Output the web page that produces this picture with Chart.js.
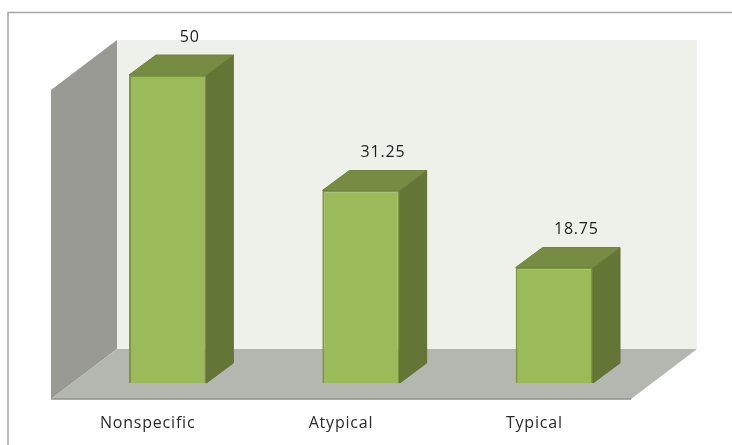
<!DOCTYPE html>
<html><head><meta charset="utf-8">
<style>html,body{margin:0;padding:0;background:#fff}canvas{display:block}</style>
<script src="https://cdn.jsdelivr.net/npm/chart.js@4"></script></head>
<body><div style="width:732px;height:445px"><canvas id="c"></canvas></div>
<script>
const categories = ["Nonspecific", "Atypical", "Typical"];
const values = [50, 31.25, 18.75];
const valueLabels = ["50", "31.25", "18.75"];
const DX = 27, DY = 20, WX = 66, WY = 50, FX = 20, FY = 16;
function poly(ctx, pts, fill, stroke){
  ctx.beginPath(); pts.forEach((p,i)=> i?ctx.lineTo(p[0],p[1]):ctx.moveTo(p[0],p[1])); ctx.closePath();
  ctx.fillStyle = fill; ctx.fill();
  if(stroke){ctx.strokeStyle=stroke;ctx.lineWidth=1;ctx.stroke();}
}
const scene = {
  id:'scene',
  beforeDraw(chart){
    const {ctx, chartArea:a} = chart;
    ctx.letterSpacing='0.8px';
    ctx.save();
    ctx.strokeStyle='#a6a6a6'; ctx.lineWidth=1.5;
    ctx.beginPath(); ctx.moveTo(8,445); ctx.lineTo(8,12.5); ctx.lineTo(732,12.5); ctx.stroke();
    const l=a.left-FX, r=a.right-FX, b=a.bottom+FY, t=a.top+FY-1;
    poly(ctx,[[l+WX,t-WY],[r+WX,t-WY],[r+WX,b-WY],[l+WX,b-WY]],'#eef1ea');
    poly(ctx,[[l,t],[l+WX,t-WY],[l+WX,b-WY],[l,b]],'#989a93');
    poly(ctx,[[l,b],[l+WX,b-WY],[r+WX,b-WY],[r,b]],'#b4b6b0');
    ctx.strokeStyle='#8f918c'; ctx.lineWidth=1.5;
    ctx.beginPath(); ctx.moveTo(l,b); ctx.lineTo(r,b); ctx.stroke();
    ctx.restore();
  },
  afterDatasetsDraw(chart){
    const {ctx} = chart;
    ctx.save();
    chart.getDatasetMeta(0).data.forEach((bar,i)=>{
      const x0=bar.x-bar.width/2, x1=bar.x+bar.width/2, y0=bar.y, y1=bar.base;
      poly(ctx,[[x1,y0],[x1+DX,y0-DY],[x1+DX,y1-DY],[x1,y1]],'#647636','#5f7033');
      poly(ctx,[[x0,y0],[x0+DX,y0-DY],[x1+DX,y0-DY],[x1,y0]],'#768c42','#6f843e');
      ctx.fillStyle='#1f1f1f'; ctx.font='16px "Open Sans"'; ctx.textAlign='center'; ctx.textBaseline='middle';
      ctx.fillText(valueLabels[i], bar.x+22, y0-38);
    });
    ctx.restore();
  }
};
new Chart(document.getElementById('c'),{
  type:'bar',
  data:{labels:categories,datasets:[{data:values,backgroundColor:'#9bbb59',borderColor:'#7a9842',borderWidth:2,barPercentage:1,categoryPercentage:0.4}]},
  plugins:[scene],
  options:{
    responsive:true,maintainAspectRatio:false,animation:false,
    layout:{padding:{left:71,right:81,top:75,bottom:0}},
    plugins:{legend:{display:false},tooltip:{enabled:false}},
    scales:{
      x:{grid:{display:false},border:{display:false},
         afterFit(s){s.height=62;},
         ticks:{labelOffset:-20,padding:23,maxRotation:0,color:'#2b2b2b',font:{family:'Open Sans',size:16}}},
      y:{display:false,min:0,max:50}
    }
  }
});
</script></body></html>
